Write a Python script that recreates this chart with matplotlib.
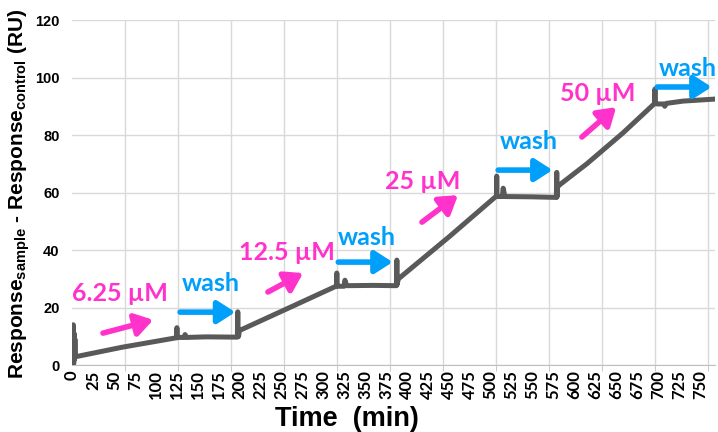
import matplotlib
matplotlib.use("Agg")
import matplotlib.pyplot as plt
from matplotlib.ticker import MultipleLocator

plt.rcParams["mathtext.fontset"] = "custom"
plt.rcParams["mathtext.bf"] = "Liberation Sans:bold"
plt.rcParams["mathtext.rm"] = "Liberation Sans"

# SPR sensorgram (time in min, response in RU)
time_min = [0, 0.5, 1, 1.5, 2, 2.5, 3, 3.5, 4, 6,
            60, 125, 125.3, 125.6, 127, 134, 135, 137, 160, 197.5,
            198, 198.4, 199, 200,
            260, 316, 316.3, 316.6, 318, 325, 326, 328, 360, 387.5,
            388, 388.4, 389, 390,
            450, 507, 507.3, 507.6, 509, 514, 515, 517, 550, 578.5,
            579, 579.4, 580, 583,
            615, 658, 696, 696.3, 696.6, 699, 707, 708, 710, 730, 768]
response = [0, 13, 1, 14, 0.5, 11, 2, 9, 3, 3,
            6.2, 9.5, 13, 9.5, 9.6, 9.6, 10.6, 9.6, 9.8, 9.7,
            18.5, 10, 10, 12,
            20, 27.5, 32, 27.5, 27.4, 27.4, 29.5, 27.6, 27.7, 27.6,
            36.5, 28, 29, 30,
            44.5, 58.8, 65.7, 58.8, 58.6, 58.6, 61.5, 58.6, 58.5, 58.3,
            67, 58.5, 62, 62.8,
            70, 80.7, 91, 96, 91, 90.8, 90.8, 90, 91, 91.8, 92.5]

x_ticks = list(range(0, 751, 25))
y_ticks = [0, 20, 40, 60, 80, 100, 120]

# injection / wash annotations: label, text position, arrow start, arrow end
MAGENTA = "#FF33CC"
BLUE = "#009FFA"
steps = [
    ("6.25 µM", MAGENTA, (0, 25.0), (37, 11.1), (97, 15.7)),
    ("wash", BLUE, (131, 28.5), (129, 18.4), (195, 18.4)),
    ("12.5 µM", MAGENTA, (199, 39.0), (234, 25.4), (276, 32.0)),
    ("wash", BLUE, (318, 44.5), (318, 35.8), (383, 35.8)),
    ("25 µM", MAGENTA, (374, 64.0), (418, 49.7), (461, 59.1)),
    ("wash", BLUE, (511, 77.6), (509, 67.8), (574, 67.8)),
    ("50 µM", MAGENTA, (583, 94.3), (609, 79.3), (650, 89.7)),
    ("wash", BLUE, (701, 103.3), (699, 96.7), (764, 96.7)),
]

fig = plt.figure(figsize=(7.18, 4.32), dpi=100)
ax = fig.add_axes([0.1003, 0.155, 0.8955, 0.7987])

ax.plot(time_min, response, color="#595959", linewidth=3.6,
        solid_joinstyle="round", solid_capstyle="round", zorder=3)

ax.set_xlim(0, 768)
ax.set_ylim(0, 120)

ax.set_xticks(x_ticks)
ax.set_xticklabels([str(t) for t in x_ticks], rotation=90,
                   fontfamily="Lato", fontweight="bold", fontsize=12)
ax.xaxis.set_minor_locator(MultipleLocator(63.3))
ax.tick_params(axis="x", which="major", length=0, pad=4)
ax.tick_params(axis="x", which="minor", length=4, color="#bfbfbf")
ax.grid(True, axis="x", which="minor", color="#d9d9d9", linewidth=1)

ax.set_yticks(y_ticks)
ax.set_yticklabels([str(v) for v in y_ticks], fontfamily="Liberation Sans",
                   fontweight="bold", fontsize=10.5)
ax.tick_params(axis="y", length=0, pad=9)
ax.grid(True, axis="y", color="#d9d9d9", linewidth=1)
ax.set_axisbelow(True)

for side in ["top", "right", "left"]:
    ax.spines[side].set_visible(False)
ax.spines["bottom"].set_color("#bfbfbf")

ax.set_xlabel("Time  (min)", fontfamily="Liberation Sans", fontweight="bold",
              fontsize=19.5, va="top")
ax.xaxis.set_label_coords(0.428, -0.118)
ax.set_ylabel(r"Response$_{\mathbf{sample}}$ - Response$_{\mathbf{control}}$ (RU)",
              fontfamily="Liberation Sans", fontweight="bold", fontsize=15)
ax.yaxis.set_label_coords(-0.062, 0.496)

for label, color, text_pos, a0, a1 in steps:
    ax.text(text_pos[0], text_pos[1], label, color=color, fontfamily="Lato",
            fontweight="bold", fontsize=18, ha="left", va="center", zorder=4)
    ax.annotate("", xy=a1, xytext=a0,
                arrowprops=dict(arrowstyle="-|>,head_length=0.7,head_width=0.45",
                                color=color, lw=4, shrinkA=0, shrinkB=0,
                                mutation_scale=15),
                zorder=4)

fig.savefig("out.png", dpi=100)
plt.close(fig)
